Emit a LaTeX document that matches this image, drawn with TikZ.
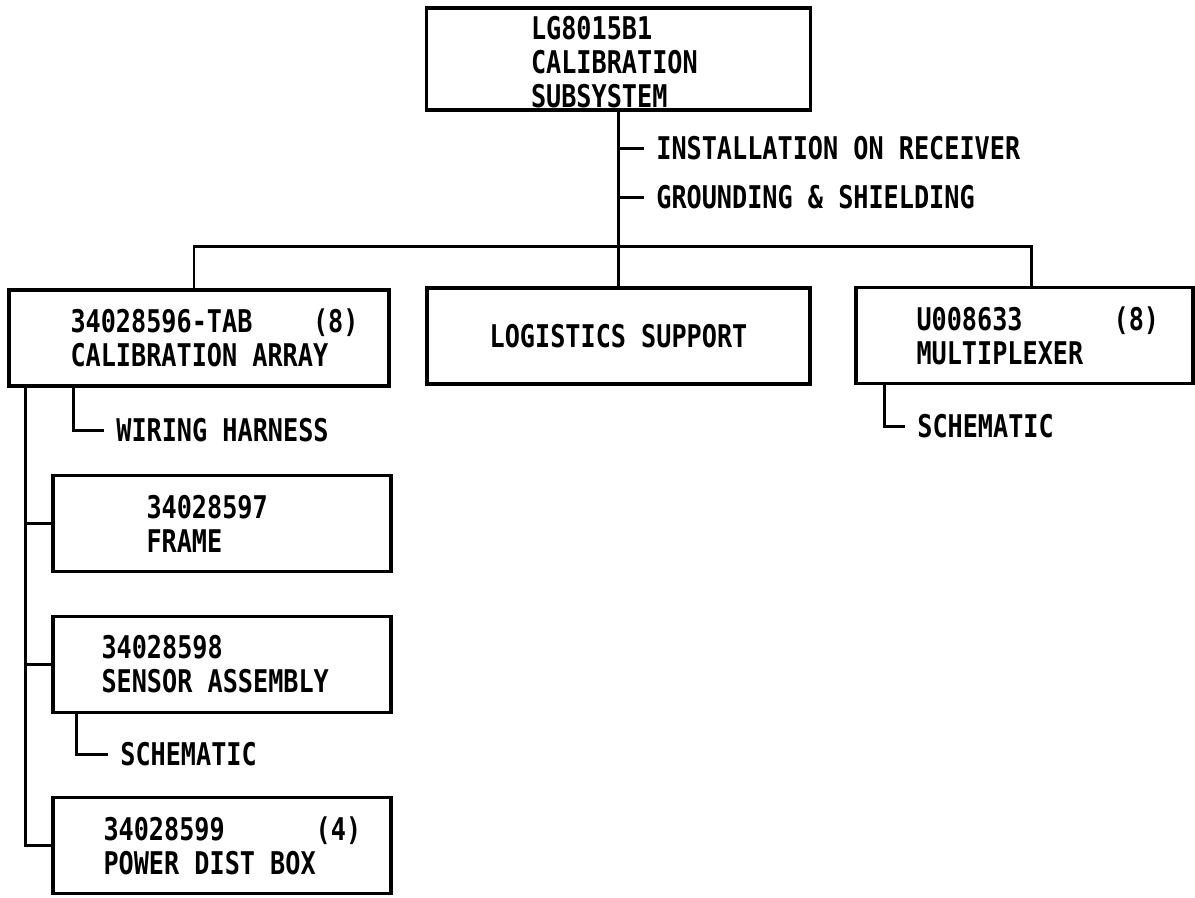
\documentclass[tikz,border=0pt]{standalone}
\usepackage{fontspec}
\newfontfamily\chartfont{DejaVu Sans Mono}[FakeStretch=0.805]
\usetikzlibrary{calc, positioning}

\begin{document}
\begin{tikzpicture}[x=0.2mm, y=-0.2mm,
  box/.style={draw, line width=2.1pt, minimum width=67.6mm, minimum height=19.2mm, inner sep=0pt,
    font=\chartfont\bfseries\fontsize{17.8pt}{19.4pt}\selectfont},
  boxtext/.style={anchor=west, align=left, inner sep=0pt,
    font=\chartfont\bfseries\fontsize{17.8pt}{19.4pt}\selectfont},
  note/.style={anchor=west, inner xsep=2.4mm, inner ysep=0pt,
    font=\chartfont\bfseries\fontsize{17.8pt}{19.4pt}\selectfont},
  link/.style={line width=1.7pt}]
\def\gap{\ \ \ \ }
\useasboundingbox (0,0) rectangle (1195,897);

% boxes
\node[box, minimum width=76.8mm, minimum height=20.4mm] (calsys) at (618.5,59) {};
\node[boxtext] (calsysT) at ([xshift=21.2mm, yshift=-0.7mm]calsys.west) {LG8015B1\\CALIBRATION\\SUBSYSTEM};
\node[box, minimum width=76mm] (array) at (199,338) {};
\node[boxtext] (arrayT) at ([xshift=12.6mm]array.west) {34028596-TAB\gap(8)\\CALIBRATION ARRAY};
\node[box, minimum width=76.6mm] (logist) at (618.5,336) {LOGISTICS SUPPORT};
\node[box, minimum width=67.4mm] (mux) at (1024.5,335.5) {};
\node[boxtext] (muxT) at ([xshift=12.4mm]mux.west) {U008633\gap\ \ (8)\\MULTIPLEXER};
\node[box] (frame) at (222,523.5) {};
\node[boxtext] (frameT) at ([xshift=19mm]frame.west) {34028597\\FRAME};
\node[box] (sensor) at (222,664.5) {};
\node[boxtext] (sensorT) at ([xshift=10mm]sensor.west) {34028598\\SENSOR ASSEMBLY};
\node[box] (power) at (222,845.5) {};
\node[boxtext] (powerT) at ([xshift=10.4mm]power.west) {34028599\gap\ \ (4)\\POWER DIST BOX};

% side notes
\node[note] (install) at (644,148) {INSTALLATION ON RECEIVER};
\node[note] (ground) at (644,197) {GROUNDING \& SHIELDING};
\node[note] (harness) at (104,430) {WIRING HARNESS};
\node[note] (sensch) at (108,754) {SCHEMATIC};
\node[note] (muxsch) at (905,426) {SCHEMATIC};

% tree lines
\coordinate (bus) at (618.5,246);
\coordinate (spine) at ([xshift=3.6mm]array.south west);
\draw[link] (calsys.south) -- (logist.north);
\draw[link] (install.west -| calsys.south) -- (install.west);
\draw[link] (ground.west -| calsys.south) -- (ground.west);
\draw[link] ([xshift=-1mm]array.north) |- (bus) -| ([xshift=1.3mm]mux.north);
\draw[link] (spine) |- (power.west);
\draw[link] (frame.west) -- (frame.west -| spine);
\draw[link] (sensor.west) -- (sensor.west -| spine);
\draw[link] ([xshift=13.2mm]array.south west) |- (harness.west);
\draw[link] ([xshift=5mm]sensor.south west) |- (sensch.west);
\draw[link] ([xshift=6mm]mux.south west) |- (muxsch.west);
\end{tikzpicture}
\end{document}
